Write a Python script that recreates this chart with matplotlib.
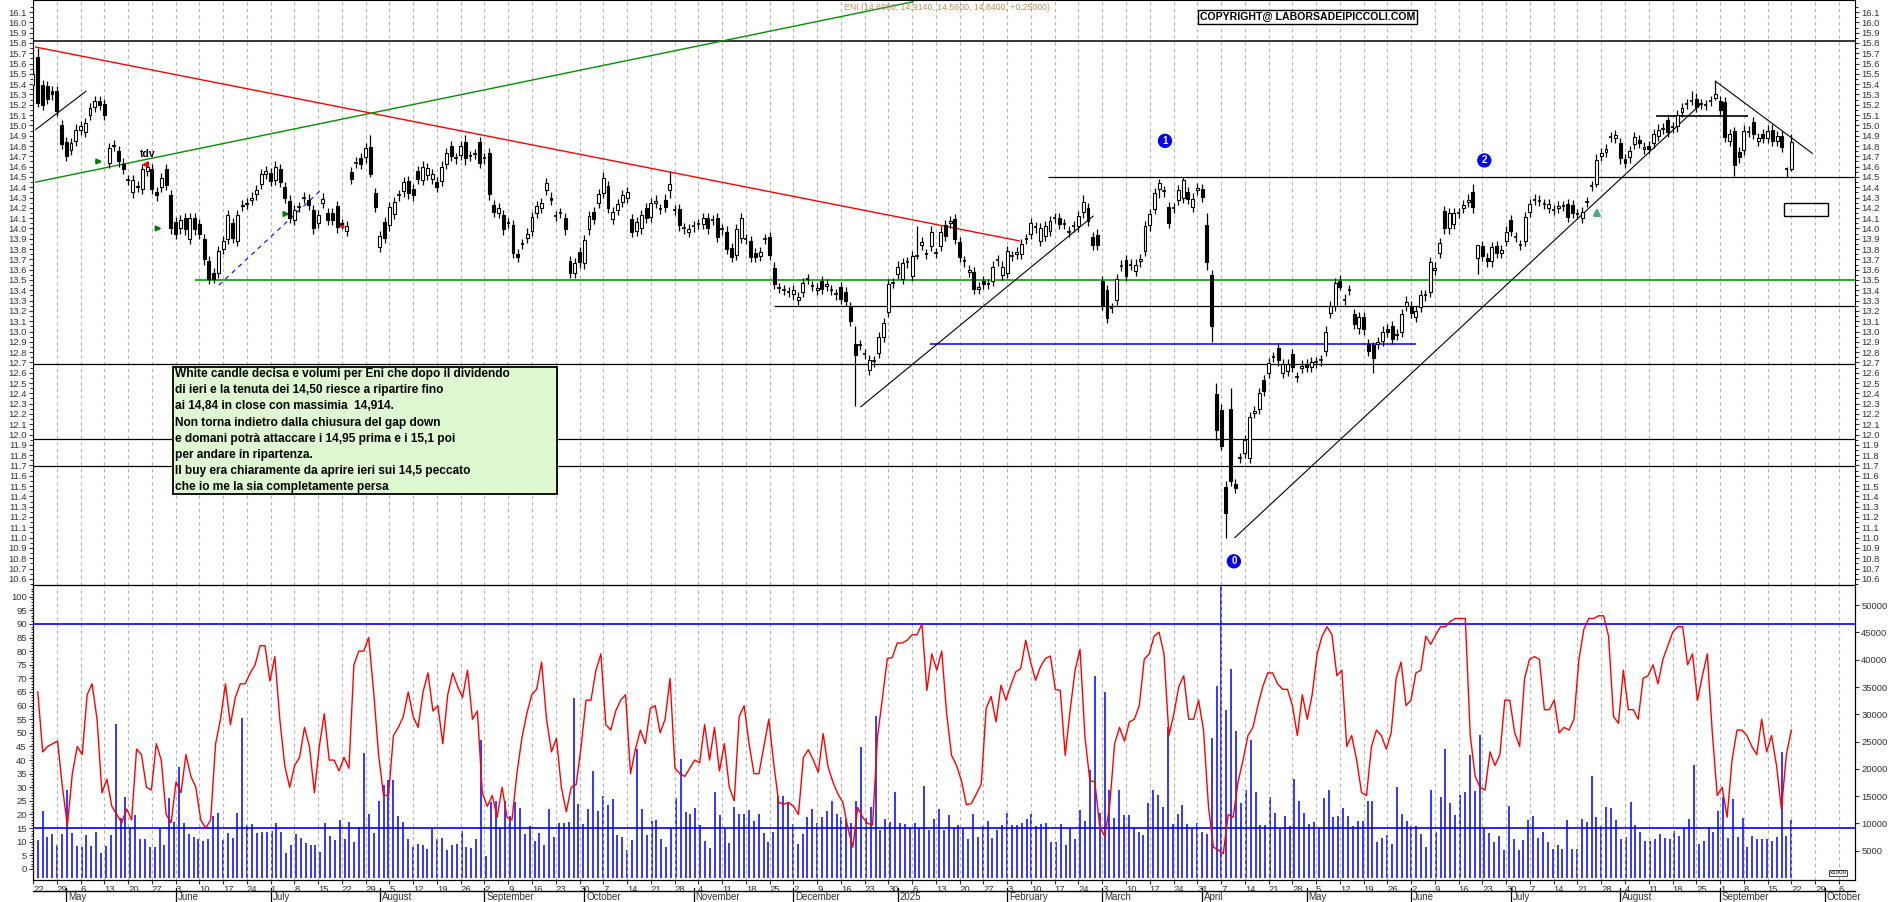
import numpy as np
import pandas as pd
import matplotlib
matplotlib.use("Agg")
import matplotlib.pyplot as plt
from matplotlib.patches import Rectangle
from matplotlib.transforms import blended_transform_factory

plt.rcParams["font.family"] = "Liberation Sans"

# ---------------- DATA ----------------
# daily candles (open, close[, high, low])
candles = [
(15.39,15.50),(15.66,15.22,15.75,15.18),(15.39,15.20),(15.38,15.26),(15.33,15.30),(15.33,15.14),
(15.00,14.82),(14.84,14.70),(14.76,14.83),(14.85,14.96),(14.96,14.99),(14.94,15.02),(15.10,15.17),
(15.18,15.24),(15.24,15.20),(15.21,15.10),(14.64,14.78),(14.80,14.81),(14.75,14.65),(14.63,14.58),
(14.47,14.47),(14.35,14.47),(14.41,14.40),(14.38,14.58),(14.56,14.60),(14.58,14.38),(14.35,14.32),
(14.40,14.49),(14.58,14.42),(14.32,14.00),(14.06,13.95),(14.00,14.08),(14.10,13.99),(13.90,14.10),
(14.10,13.99),(14.04,13.95),(13.90,13.70),(13.68,13.51),(13.57,13.51,13.62,13.47),(13.57,13.78),
(13.80,13.88),(13.90,14.13),(14.05,13.91),(13.88,14.13),(14.22,14.23),(14.24,14.25),(14.28,14.30),
(14.33,14.37),(14.43,14.53),(14.53,14.56),(14.54,14.46),(14.47,14.60),(14.58,14.45),(14.40,14.30),
(14.27,14.10),(14.08,14.18),(14.21,14.21),(14.30,14.30),(14.28,14.23),(14.18,14.00),(14.05,14.13),
(14.25,14.29),(14.15,14.08),(14.15,14.08),(14.22,14.01),(14.04,14.04),(13.98,14.02),(14.55,14.48),
(14.64,14.64),(14.68,14.63),(14.69,14.78),(14.79,14.53,14.91,14.50),(14.34,14.21),(13.82,13.93),(14.06,13.91),
(14.03,14.21),(14.14,14.26),(14.32,14.32),(14.36,14.45),(14.46,14.34),(14.38,14.32),(14.56,14.48),
(14.47,14.60),(14.52,14.59),(14.48,14.53),(14.45,14.40),(14.46,14.60),(14.63,14.73),(14.80,14.70),
(14.68,14.68),(14.71,14.80),(14.84,14.68,14.91,14.62),(14.70,14.70),(14.72,14.72),(14.84,14.64),(14.68,14.68),
(14.73,14.33),(14.23,14.16),(14.15,14.20),(14.13,13.99),(14.05,14.05),(14.03,13.76),(13.75,13.72),
(13.85,13.85),(13.91,13.95),(13.98,14.11),(14.15,14.22),(14.20,14.25),(14.37,14.44),(14.30,14.28),
(14.12,14.12),(14.15,14.15),(14.10,13.99),(13.68,13.57),(13.57,13.66),(13.77,13.67),(13.66,13.89),
(13.99,14.12),(14.16,14.09),(14.25,14.33),(14.34,14.49,14.55,14.30),(14.41,14.20),(14.09,14.16),(14.18,14.24),
(14.26,14.32),(14.30,14.35),(14.09,13.97),(13.98,14.06),(14.00,14.13),(14.20,14.10),(14.11,14.25),
(14.25,14.27),(14.19,14.19),(14.28,14.21),(14.37,14.43,14.55,14.30),(14.18,14.18),(14.19,14.03),(14.00,14.00),
(13.97,13.99),(14.02,14.02),(14.04,14.04),(14.04,14.10),(14.10,14.00),(14.08,14.08),(14.10,13.92),
(13.99,13.99),(13.97,13.80),(13.81,13.72),(13.74,13.99),(13.91,14.10),(13.90,13.90),(13.88,13.72),
(13.76,13.72),(13.73,13.77),(13.90,13.90),(13.92,13.74),(13.62,13.46),(13.42,13.42),(13.40,13.40),
(13.38,13.38),(13.36,13.40),(13.31,13.33),(13.38,13.47),(13.51,13.51),(13.44,13.44),(13.40,13.42),(13.49,13.41),
(13.44,13.46),(13.40,13.40),(13.36,13.36),(13.43,13.32),(13.38,13.30),(13.24,13.10),
(12.88,12.77,13.05,12.28),(12.87,12.87),(12.78,12.78),(12.63,12.72),(12.71,12.71),(12.79,12.95),
(12.95,13.08),(13.19,13.46),(13.47,13.47),(13.56,13.63),(13.51,13.66),(13.67,13.67),(13.54,13.73),
(13.73,13.73,14.02,13.70),(13.84,13.87),(13.75,13.75),(13.83,13.97),(13.76,13.76),(13.83,13.97),
(14.03,13.93),(14.05,14.07),(14.09,13.90),(13.87,13.72),(13.68,13.68),(13.58,13.60),(13.58,13.41),
(13.41,13.43),(13.49,13.46),(13.46,13.46),(13.49,13.63),(13.69,13.69),(13.55,13.63),(13.57,13.78),
(13.73,13.73),(13.75,13.77),(13.75,13.85),(13.90,13.90),(13.95,14.05),(14.01,14.01),(13.88,14.00),
(13.93,14.02),(13.98,14.07),(14.10,14.10),(14.10,14.04),(14.04,14.04),(13.97,13.97),(14.02,14.02),
(14.02,14.12),(14.16,14.26,14.32,14.10),(14.20,14.07),(13.92,13.84),(13.94,13.84),(13.49,13.26),
(13.40,13.13),(13.23,13.23),(13.31,13.51),(13.64,13.64),(13.69,13.54),(13.65,13.65),(13.59,13.65),
(13.68,13.70),(13.78,14.02),(14.03,14.14),(14.19,14.34),(14.38,14.44,14.48,14.30),(14.36,14.36),(14.21,14.05),
(14.20,14.20),(14.28,14.37),(14.30,14.47,14.50,14.25),(14.35,14.29),(14.21,14.29),(14.37,14.39),(14.38,14.31),
(14.03,13.67,14.15,13.60),(13.55,13.05,13.60,12.90),(12.39,12.04,12.50,11.95),(12.24,11.89,12.30,11.85),
(11.49,11.24,11.55,11.00),(12.25,11.55,12.45,11.50),(11.52,11.48),(11.77,11.77),(11.82,11.95),
(11.77,12.17),(12.21,12.23),(12.25,12.40),(12.53,12.42),(12.60,12.69),(12.75,12.75),(12.84,12.72),
(12.60,12.68),(12.62,12.68),(12.78,12.66),(12.56,12.56),(12.65,12.67),(12.68,12.66),(12.66,12.70),(12.70,12.70),
(12.72,12.72),(12.81,13.00),(13.18,13.25),(13.25,13.47),(13.49,13.43,13.55,13.40),(13.31,13.31),(13.40,13.40),
(13.17,13.07),(13.03,13.14),(13.14,13.02),(12.88,12.81),(12.87,12.74,12.90,12.60),(12.88,12.90),(12.91,13.00),
(13.02,13.00),(13.05,12.93),(12.97,12.97),(13.00,13.17),(13.25,13.29),(13.25,13.18),(13.14,13.20),
(13.24,13.35),(13.35,13.35),(13.38,13.67),(13.60,13.62),(13.76,13.86),(14.17,14.00),(14.00,14.15),
(14.04,14.15),(14.15,14.15),(14.20,14.23),(14.26,14.28),(14.35,14.21,14.43,14.15),(13.71,13.84,13.84,13.56),
(13.83,13.73),(13.71,13.68),(13.68,13.82),(13.83,13.76),(13.76,13.79),(13.88,13.97),(14.08,13.98),
(13.92,13.92),(13.84,13.84),(13.88,14.11),(14.16,14.24),(14.28,14.28),(14.27,14.27),(14.24,14.24),(14.20,14.24),
(14.18,14.18),(14.20,14.22),(14.22,14.22),(14.24,14.11),(14.23,14.15),(14.14,14.14),(14.10,14.16),(14.26,14.26),
(14.41,14.41),(14.43,14.66,14.72,14.40),(14.70,14.73),(14.74,14.77),(14.89,14.89),(14.88,14.91),(14.83,14.68),
(14.67,14.64),(14.69,14.75),(14.82,14.89),(14.86,14.83),(14.77,14.79),(14.80,14.77),(14.83,14.92),
(14.90,14.96),(14.97,14.97),(15.05,14.94),(14.98,14.98),(14.99,15.10),(15.13,15.17),(15.21,15.21),
(15.24,15.24,15.33,15.20),(15.26,15.18),(15.21,15.21),(15.20,15.20),(15.24,15.24),(15.27,15.30,15.43,15.25),
(15.24,15.15),(15.23,14.89),(14.85,14.92),(14.95,14.62,14.98,14.51),(14.74,14.69),(14.76,14.95),(14.94,14.94),
(15.03,14.92),(14.85,14.88),(14.92,14.88),(14.88,14.95),(14.96,14.85),(14.85,14.90),(14.90,14.79),
(14.58,14.58,14.60,14.50),(14.58,14.84,14.914,14.56),
]

# volume (displayed units x1000 -> thousands)
volume = [
6.9,12.2,7.5,8.0,6.0,8.0,16.2,8.2,5.8,5.7,7.8,5.8,8.5,4.5,5.8,7.8,28.3,11.0,14.8,9.1,11.6,7.1,7.2,5.6,5.7,
9.1,6.0,14.7,10.3,20.3,10.1,8.1,7.5,7.2,6.8,7.1,11.3,12.0,6.9,8.2,7.4,11.9,29.3,9.7,9.9,8.3,8.4,8.5,8.6,
10.0,8.5,4.6,6.1,8.0,7.3,6.5,6.0,6.0,4.8,10.0,7.7,6.9,10.6,7.2,10.2,6.6,9.4,22.9,11.7,8.3,14.1,17.0,18.0,
18.0,11.4,10.3,7.2,5.7,6.3,6.1,5.3,9.0,7.2,7.4,5.2,6.0,6.3,8.6,5.7,5.5,7.2,25.2,4.1,14.0,14.2,9.4,14.2,
11.3,13.9,12.9,8.0,9.5,6.8,8.3,6.0,12.7,7.6,10.0,10.0,10.3,32.9,13.5,9.9,12.7,19.6,12.3,15.0,13.3,14.4,
7.8,7.5,5.1,6.9,23.7,12.7,7.8,10.5,10.6,7.1,5.7,9.1,14.7,21.8,12.1,11.7,12.9,9.8,6.7,5.5,15.8,11.5,8.9,
6.4,13.0,11.8,11.8,12.4,10.5,11.7,8.3,6.6,8.4,15.1,
15.0,13.9,9.9,6.3,8.0,11.2,12.7,10.1,11.2,12.3,14.2,11.7,11.2,10.9,10.1,14.2,24.0,11.0,13.0,29.6,8.8,
10.9,10.3,15.8,10.1,9.9,9.1,10.1,9.2,16.8,8.8,10.9,12.7,8.8,11.5,9.2,9.7,9.2,7.1,11.7,7.5,9.5,10.5,7.4,
8.8,9.7,11.9,9.7,9.7,10.1,10.9,11.7,9.5,9.9,10.1,6.6,6.6,9.9,6.0,9.1,7.2,12.5,10.5,19.8,37.0,
11.9,34.1,16.1,11.0,16.1,11.5,11.5,9.2,8.4,7.8,13.7,16.1,15.3,13.0,27.7,9.9,11.7,13.3,9.9,9.1,10.1,8.4,
8.0,25.6,35.2,60.0,30.7,38.3,26.9,13.7,16.1,25.2,15.7,9.7,9.7,14.8,11.9,9.2,11.3,9.5,18.2,14.2,12.0,9.9,
10.2,9.2,14.6,16.1,11.2,11.3,12.8,11.3,9.5,10.4,10.5,14.2,14.2,6.6,7.4,7.8,6.2,16.6,11.8,10.5,9.5,9.6,
8.1,5.6,16.1,8.5,14.8,23.7,13.7,11.6,15.3,15.8,22.5,15.9,26.2,9.1,8.3,6.6,7.7,5.1,13.2,7.1,5.2,7.0,10.6,
11.3,7.3,8.5,6.6,5.3,6.1,5.3,10.6,5.4,5.3,10.9,10.3,18.7,11.1,9.5,13.0,12.8,10.6,7.1,7.5,13.9,9.7,8.5,
6.8,6.8,7.2,8.0,7.4,7.1,8.6,7.7,9.1,10.8,20.7,6.3,6.7,9.4,8.4,12.3,14.8,7.3,14.5,7.5,11.0,5.7,7.7,7.2,
7.2,7.2,6.8,7.6,23.1,7.7,10.6,
]

# oscillator (left scale)
oscillator = [
65,43,45,46,47,30,16,35,45,42,64,68,55,28,33,23,20,17,22,18,44,42,30,29,46,40,20,17,32,28,42,34,30,18,
15,18,46,55,68,53,63,68,68,72,75,82,82,69,78,55,38,30,38,41,52,45,28,45,57,40,40,36,41,37,75,80,80,85,
65,42,27,27,49,52,56,65,56,52,65,72,58,60,46,64,72,67,63,73,55,58,28,23,27,19,30,19,18,35,48,57,64,66,
76,55,43,48,30,21,30,31,45,62,62,73,79,53,51,58,62,64,35,44,51,46,59,60,50,55,70,37,35,34,37,40,39,53,
40,52,36,46,30,25,56,60,46,35,35,45,55,
38.6,24.4,23.8,24.4,23,20,41,43.8,40,35.5,49.7,37.4,31.8,27.5,24.4,15,8,22.6,19,16.7,16.2,48.4,63,77.3,
77.7,83,83,84,86,86,90,65.6,79,73,80,57,41.7,38,32.4,23.6,24,27.5,31.2,59,63.4,54,67.5,62,67.5,72.4,
73.6,84,76,69.3,74.3,77.3,78.2,66,65.6,41.7,58.3,73,80.7,48.4,32.4,
32,15.5,12,23,46,52,47,54,55,60,77,79,85.5,87,79,49,57,67,71,55,55,62,51,23,8,7,5.6,20,19,32,40,49,52,
60,67,72,72,68,66,66,60,49,64,55,64,79,85.5,89,86,71,73,45,49,40,28,27,45,51,49,44,50,70,76,60,62,72,
73,85.5,82.5,86,89,89,91,92,92,92,49,34,30,29,43,38,42,62,62,50,45,70,77,78,77,58.5,58.5,62,50,52,51,
55,77,88,92,92,93,93,85.5,56,53.5,73,58.5,58.5,55,70,71,75,68,77,82,87,89,89,75,79,62,71,79,50,27,30,
19,40,51,51,49,45,42,55,43,49,38,22,42,51,
]

note_lines = [
    "White candle decisa e volumi per Eni che dopo il dividendo",
    "di ieri e la tenuta dei 14,50 riesce a ripartire fino",
    "ai 14,84 in close con massimia  14,914.",
    "Non torna indietro dalla chiusura del gap down",
    "e domani potrà attaccare i 14,95 prima e i 15,1 poi",
    "per andare in ripartenza.",
    "Il buy era chiaramente da aprire ieri sui 14,5 peccato",
    "che io me la sia completamente persa",
]
title_text = "ENI (14.6000, 14.9140, 14.5600, 14.8400, +0.25000)"
copyright_text = "COPYRIGHT@ LABORSADEIPICCOLI.COM"
start_date, end_axis_date = "2024-04-22", "2025-10-10"

# ---------------- FIGURE ----------------
W, H = 1890, 902
DIV = 585
fig = plt.figure(figsize=(W / 100, H / 100), dpi=100)
L, R = 33 / W, 1855 / W
axp = fig.add_axes([L, 1 - DIV / H, R - L, DIV / H])
axo = fig.add_axes([L, 1 - 880 / H, R - L, (880 - DIV) / H], sharex=axp)
axv = axo.twinx()

N = len(candles)
last = 369
xs = np.arange(N) + (last - (N - 1))
XL = (-1.0, 382.4)

# grid / dates
bd = pd.bdate_range(start_date, end_axis_date)
pos = np.arange(len(bd)) - 1.0
mondays = [(p, d) for p, d in zip(pos, bd) if d.weekday() == 0]
for a in (axp, axo):
    for p, d in mondays:
        a.axvline(p, color="#b4b4b4", ls=(0, (3, 3)), lw=0.8, zorder=0)

# candles
for x, c in zip(xs, candles):
    o, cl = c[0], c[1]
    hi = c[2] if len(c) > 2 else max(o, cl) + 0.05
    lo = c[3] if len(c) > 3 else min(o, cl) - 0.05
    axp.vlines(x, lo, hi, color="black", lw=0.9, zorder=3)
    if abs(cl - o) < 0.006:
        axp.hlines(o, x - 0.35, x + 0.35, color="black", lw=1.2, zorder=4)
    else:
        axp.bar(x, abs(cl - o), bottom=min(o, cl), width=0.62,
                color="white" if cl > o else "black", edgecolor="black", lw=0.8, zorder=4)

# horizontal levels
axp.axhline(15.82, color="black", lw=1.1)
axp.axhline(12.68, color="black", lw=0.9)
axp.axhline(11.96, color="black", lw=0.9)
axp.axhline(11.69, color="black", lw=0.9)
axp.hlines(14.50, 212.6, XL[1], color="black", lw=0.9)
axp.hlines(13.25, 154.9, XL[1], color="black", lw=0.9)
axp.hlines(13.50, 33.0, XL[1], color="#00a000", lw=1.2)
axp.hlines(12.88, 187.7, 290.0, color="#0000ff", lw=1.1)
axp.hlines(15.09, 340.6, 359.9, color="black", lw=1.2)
# trend lines
axp.plot([-0.42, 206.5], [15.76, 13.88], color="#ff0000", lw=1.0)
axp.plot([-0.42, 184.2], [14.45, 16.20], color="#009000", lw=1.0)
axp.plot([-0.42, 10.1], [14.96, 15.33], color="black", lw=0.8)
axp.plot([38.1, 60.0], [13.45, 14.39], color="#0000ff", lw=0.8, ls=(0, (4, 4)))
axp.plot([173.2, 222.1], [12.27, 14.12], color="black", lw=0.8)
axp.plot([251.9, 349.8], [11.0, 15.2], color="black", lw=0.8)
axp.plot([353.0, 373.4], [15.43, 14.73], color="black", lw=0.8)
axp.add_patch(Rectangle((367.5, 14.12), 9.3, 0.13, fill=False, ec="black", lw=1.0))

# markers
for lab, x, y in (("1", 237.2, 14.85), ("2", 304.4, 14.66), ("0", 251.7, 10.77)):
    axp.text(x, y, lab, color="white", fontsize=7, fontweight="bold", ha="center", va="center",
             bbox=dict(boxstyle="circle,pad=0.15", fc="#0000ee", ec="#0000ee"), zorder=6)
for x, y in ((13.0, 14.65), (25.5, 14.0), (52.4, 14.14)):
    axp.annotate("", xy=(x + 1.2, y), xytext=(x - 1.2, y),
                 arrowprops=dict(arrowstyle="-|>", color="#008000", lw=1.5, mutation_scale=7))
for x, y in ((22.5, 14.62), (63.6, 14.03)):
    axp.annotate("", xy=(x - 1.2, y), xytext=(x + 1.2, y),
                 arrowprops=dict(arrowstyle="-|>", color="#ff0000", lw=1.5, mutation_scale=7))
axp.annotate("", xy=(328.1, 14.23), xytext=(328.1, 14.12),
             arrowprops=dict(arrowstyle="-|>", color="#40b080", lw=2.0, mutation_scale=9))
axp.text(23.2, 14.72, "tdv", fontsize=7.5, fontweight="bold", ha="center", va="center")

axp.set_xlim(*XL)
axp.set_ylim(10.54, 16.217)
axp.set_yticks(np.round(np.arange(10.6, 16.15, 0.1), 1))
axp.set_yticks(np.arange(10.55, 16.2, 0.1), minor=True)
axp.yaxis.set_major_formatter(matplotlib.ticker.FormatStrFormatter("%.1f"))
axp.tick_params(axis="y", labelsize=6.8, labelright=True, right=True, length=3, pad=1.5, colors="#333333")
axp.tick_params(axis="y", which="minor", length=2, right=True)
axp.tick_params(axis="x", bottom=False, labelbottom=False)

# header texts
fig.text(844 / W, 1 - 7 / H, title_text, fontsize=6.3, color="#c09060", va="center", ha="left")
fig.text(1200 / W, 1 - 17 / H, copyright_text, fontsize=7.6, fontweight="bold", va="center", ha="left",
         bbox=dict(boxstyle="square,pad=0.15", fc="white", ec="black", lw=1.0))

# note box
bx0, bx1, by0, by1 = 173, 557, 367, 494
fig.patches.append(Rectangle((bx0 / W, 1 - by1 / H), (bx1 - bx0) / W, (by1 - by0) / H,
                             transform=fig.transFigure, fc="#def8d2", ec="black", lw=1.3, zorder=5))
for k, line in enumerate(note_lines):
    fig.text(175 / W, 1 - (374 + 16.2 * k) / H, line, fontsize=8.6, fontweight="bold",
             va="center", ha="left", zorder=6)

# lower panel
vx = np.linspace(0, last, len(volume))
axv.vlines(vx, 0, volume, color="#0000ff", lw=1.1)
axv.set_ylim(-0.37, 53.7)
axv.set_yticks(np.arange(5, 51, 5))
axv.set_yticklabels([f"{v * 1000:d}" for v in range(5, 51, 5)])
axv.tick_params(labelsize=6.8, length=3, pad=1.5, colors="#333333")

ox = np.linspace(0, last, len(oscillator))
axo.plot(ox, oscillator, color="#ff0000", lw=1.0, zorder=4)
axo.axhline(90, color="#0000ff", lw=1.2)
axo.axhline(15, color="#0000ff", lw=1.2)
axo.set_ylim(-4.06, 104.3)
axo.set_yticks(np.arange(0, 101, 5))
axo.set_yticks(np.arange(0, 104, 1), minor=True)
axo.tick_params(axis="y", labelsize=6.8, length=3, pad=1.5, colors="#333333")
axo.tick_params(axis="y", which="minor", length=1.5)
axo.set_zorder(axv.get_zorder() + 1)
axo.patch.set_visible(False)

axo.set_xticks([p for p, d in mondays])
axo.set_xticklabels([str(d.day) for p, d in mondays], ha="left")
axo.tick_params(axis="x", labelsize=6.8, length=3, pad=0.5, colors="#333333")
axo.set_xlim(*XL)

trans = blended_transform_factory(axo.transData, fig.transFigure)
seen = set()
for p, d in zip(pos, bd):
    key = (d.year, d.month)
    if key in seen:
        continue
    seen.add(key)
    if p <= XL[0] + 0.5 or p > XL[1] - 3:
        continue
    name = "2025" if (d.year == 2025 and d.month == 1) else d.strftime("%B")
    fig.add_artist(matplotlib.lines.Line2D([p, p], [0, 14 / H], transform=trans, color="black", lw=0.9))
    t = fig.text(0, 5 / H, name, transform=trans, fontsize=7, color="#333333", va="center", ha="left")
    t.set_x(p + 0.4)
fig.add_artist(matplotlib.lines.Line2D([L, R], [1 - 891 / H] * 2, transform=fig.transFigure, color="black", lw=1.0))
fig.text(1838 / W, 1 - 873 / H, "x1000", fontsize=4.5, ha="center", va="center",
         bbox=dict(boxstyle="square,pad=0.1", fc="white", ec="black", lw=0.5))

for a in (axp, axo, axv):
    for s in a.spines.values():
        s.set_color("black")

fig.savefig("out.png", dpi=100)
